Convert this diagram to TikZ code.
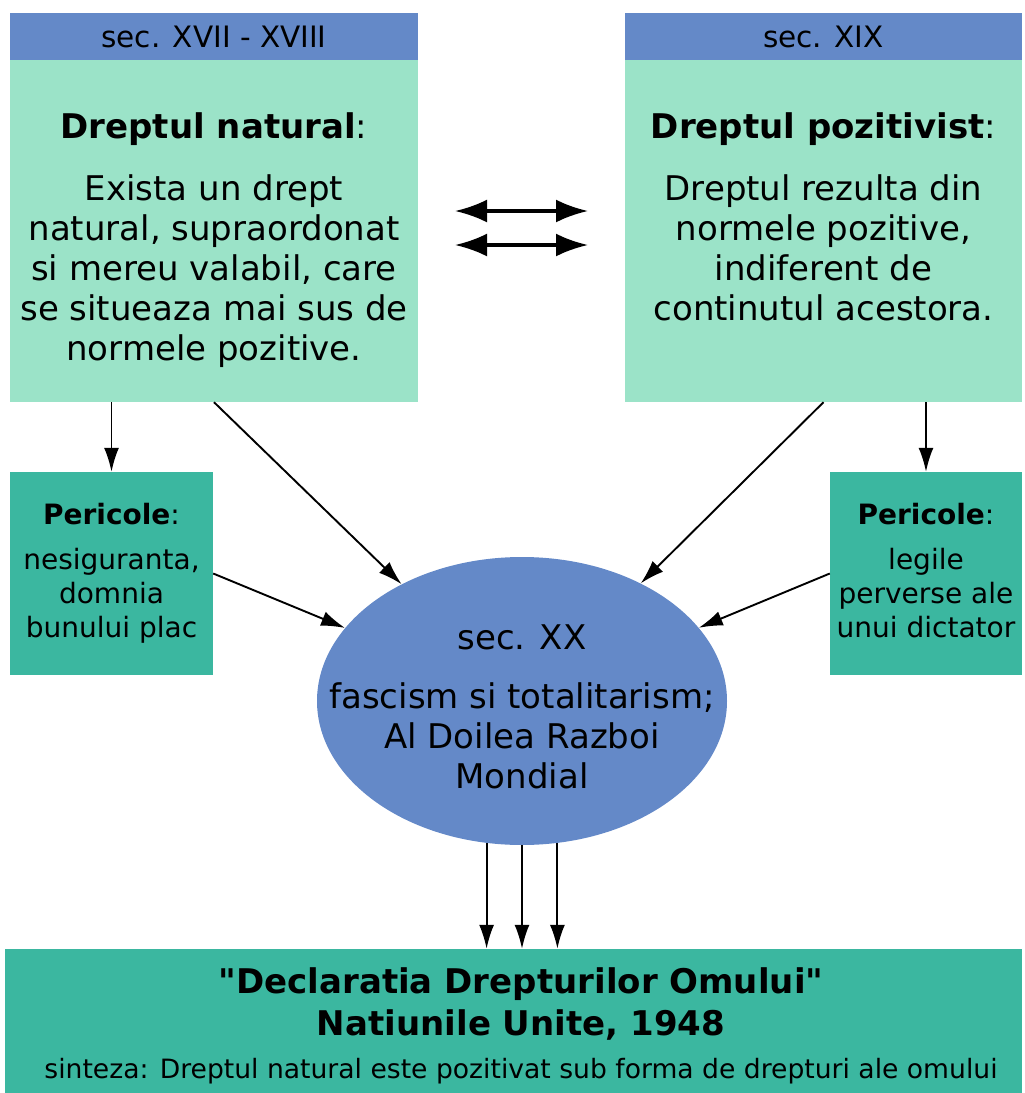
\documentclass[tikz,border=0pt]{standalone}
\usepackage{fontspec}
\setmainfont{DejaVu Sans}
\newfontfamily\declfont{DejaVu Sans} % fara ligaturi TeX: ghilimele drepte
\usetikzlibrary{arrows.meta,shapes.geometric}
\definecolor{secblue}{RGB}{100,137,200}
\definecolor{mintbox}{RGB}{155,227,200}
\definecolor{pericolbox}{RGB}{59,183,160}

\begin{document}
\begin{tikzpicture}[
        x=1pt, y=-1pt, % coordonate in pixeli, y in jos
        header/.style = {fill=secblue, minimum width=408pt, minimum height=47pt, inner sep=0pt, font=\fontsize{29.5}{34}\selectfont},
        body/.style = {fill=mintbox, minimum width=408pt, minimum height=342pt, inner sep=0pt},
        pericol/.style = {fill=pericolbox, minimum width=203pt, minimum height=203pt, inner sep=0pt},
        txt/.style = {align=center, anchor=base, inner sep=0pt, font=\fontsize{34}{40}\selectfont}, % base = ultimul rand
        smalltxt/.style = {txt, font=\fontsize{28}{34}\selectfont},
        arr/.style = {line width=1.9pt, -{Latex[length=24pt, width=15pt]}},
        dbl/.style = {line width=3.2pt, {Latex[length=32pt, width=23pt]}-{Latex[length=32pt, width=23pt]}},
    ]
    \useasboundingbox (0,0) rectangle (1025,1093);

    % secolele XVII - XVIII
    \node[header] (hdrnat) at (214,36.5) {sec. XVII - XVIII};
    \node[body] (natbox) at (214,231) {};
    \node[txt] (nattxt) at (214,360) {\textbf{Dreptul natural}:\\[22pt] Exista un drept\\ natural, supraordonat\\ si mereu valabil, care\\ se situeaza mai sus de\\ normele pozitive.};

    % secolul XIX
    \node[header, minimum width=397pt] (hdrpos) at (823.5,36.5) {sec. XIX};
    \node[body, minimum width=397pt] (posbox) at (823.5,231) {};
    \node[txt] (postxt) at (823.5,320) {\textbf{Dreptul pozitivist}:\\[22pt] Dreptul rezulta din\\ normele pozitive,\\ indiferent de\\ continutul acestora.};

    % pericole
    \node[pericol] (perL) at (111.5,573.5) {};
    \node[smalltxt] (perLtxt) at (111.5,637) {\textbf{Pericole}:\\[11pt] nesiguranta,\\ domnia\\ bunului plac};
    \node[pericol, minimum width=192pt] (perR) at (926,573.5) {};
    \node[smalltxt] (perRtxt) at (926,637) {\textbf{Pericole}:\\[11pt] legile\\ perverse ale\\ unui dictator};

    % secolul XX
    \node[ellipse, fill=secblue, minimum width=410pt, minimum height=288pt, inner sep=0pt] (ell) at (522,701) {};
    \node[txt] (elltxt) at (522,788) {sec. XX\\[19pt] fascism si totalitarism;\\ Al Doilea Razboi\\ Mondial};

    % declaratia
    \node[fill=pericolbox, minimum width=1017pt, minimum height=144pt, inner sep=0pt] (decl) at (513.5,1021) {};
    \node[txt, font=\declfont\fontsize{34}{42}\selectfont\bfseries] (decltxt) at (521,1035) {"Declaratia Drepturilor Omului"\\ Natiunile Unite, 1948};
    \node[txt, font=\fontsize{26.6}{32}\selectfont] (sinteza) at (521,1078) {sinteza: Dreptul natural este pozitivat sub forma de drepturi ale omului};

    % sageti duble intre cele doua conceptii
    \coordinate (dblAl) at (455,211);
    \coordinate (dblAr) at (588,211);
    \coordinate (dblBl) at (455,245);
    \coordinate (dblBr) at (588,245);
    \draw[dbl] (dblAl) -- (dblAr);
    \draw[dbl] (dblBl) -- (dblBr);

    \draw[arr] (perL.north |- natbox.south) -- (perL.north);
    \draw[arr] (natbox.south) -- (ell);
    \draw[arr] (perL.east) -- (ell);
    \draw[arr] (perR.north |- posbox.south) -- (perR.north);
    \draw[arr] (posbox.south) -- (ell);
    \draw[arr] (perR.west) -- (ell);
    \foreach \a in {256,270,284}
        \draw[arr] (ell.\a) -- (ell.\a |- decl.north);
\end{tikzpicture}
\end{document}
